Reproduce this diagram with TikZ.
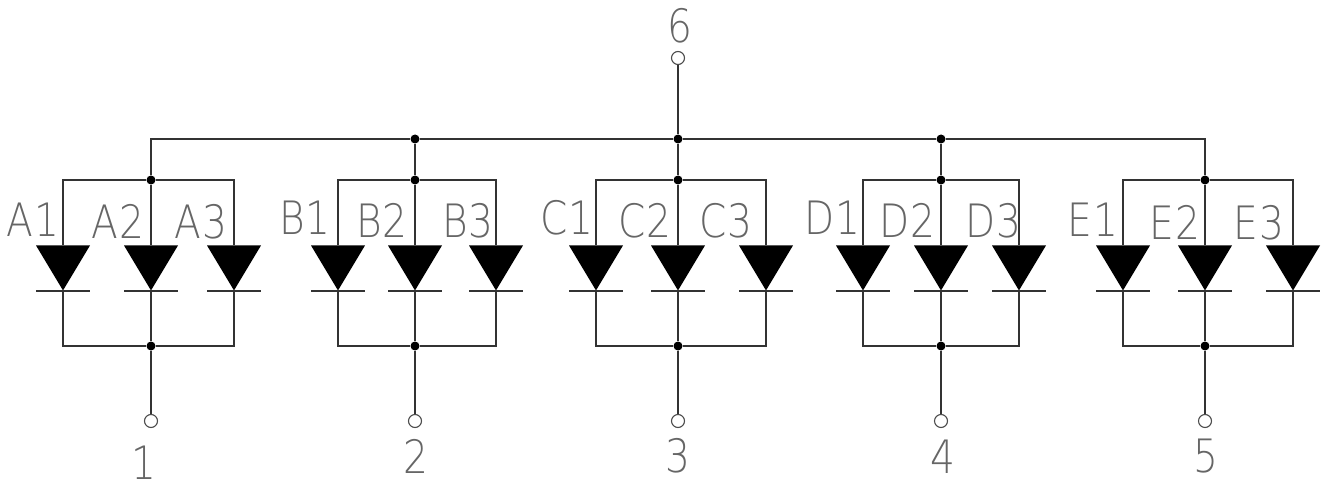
\documentclass[tikz,border=0pt]{standalone}
\usepackage{fontspec}
\setsansfont[FakeStretch=0.85,LetterSpace=2]{DejaVu Sans ExtraLight}
\usetikzlibrary{shapes.geometric}
\tikzset{
  wire/.style={line width=1.5pt,color=black!80},
  junct/.style={circle,fill=black,inner sep=0pt,minimum size=9pt},
  term/.style={circle,draw,line width=1.1pt,color=black!70,fill=white,inner sep=0pt,minimum size=13pt},
  diode/.style={isosceles triangle,isosceles triangle stretches,shape border rotate=-90,fill=black,inner sep=0pt,minimum width=54pt,minimum height=45pt,anchor=apex},
  lbl/.style={inner sep=0pt,anchor=base,color=black!60,font=\sffamily\fontsize{46}{46}\selectfont},
}
\begin{document}
\begin{tikzpicture}[x=1pt,y=-1pt]
  \useasboundingbox (0,0) rectangle (1323,481);
  % bus and pin 6
  \node[term] (p6) at (678,58) {};
  \node[junct] (j6) at (678,139) {};
  \node[lbl] (l6) at (680,43) {6};
  \draw[wire] (p6) -- (j6);
  % one group of three diodes per pin
  \foreach \g/\xa/\xb/\xc in {A/63/151/234,B/338/415/496,C/596/678/766,D/863/941/1019,E/1123/1205/1293} {
    \node[junct] (\g top) at (\xb,180) {};
    \node[junct] (\g bot) at (\xb,346) {};
    \node[term] (\g pin) at (\xb,421) {};
    \node[diode] (\g1) at (\xa,291) {};
    \node[diode] (\g2) at (\xb,291) {};
    \node[diode] (\g3) at (\xc,291) {};
    \draw[wire] (\g top) -| (\g1.lower side);
    \draw[wire] (\g top) -| (\g3.lower side);
    \draw[wire] (\g top) -- (\g2.lower side);
    \draw[wire] (\g1.apex) |- (\g bot);
    \draw[wire] (\g3.apex) |- (\g bot);
    \draw[wire] (\g2.apex) -- (\g bot);
    \draw[wire] (\g bot) -- (\g pin);
    \draw[wire] (\xa-27,291) -- (\xa+27,291);
    \draw[wire] (\xb-27,291) -- (\xb+27,291);
    \draw[wire] (\xc-27,291) -- (\xc+27,291);
  }
  % pin numbers
  \node[lbl] (l1) at (144,479) {1};
  \node[lbl] (l2) at (416,473) {2};
  \node[lbl] (l3) at (678,472) {3};
  \node[lbl] (l4) at (943,473) {4};
  \node[lbl] (l5) at (1206,472) {5};
  % diode names
  \foreach \txt/\x/\y in {A1/33/237,A2/118/239,A3/201/239,B1/305/235,B2/382/238,B3/468/238,C1/567/235,C2/645/238,C3/726/238,D1/832/235,D2/907/238,D3/993/238,E1/1093/237,E2/1175/240,E3/1259/240} {
    \node[lbl] (n\txt) at (\x,\y) {\txt};
  }
  % bus
  \node[junct] (jb) at (415,139) {};
  \node[junct] (jd) at (941,139) {};
  \draw[wire] (Atop) |- (jb) -- (j6) -- (jd) -| (Etop);
  \draw[wire] (jb) -- (Btop);
  \draw[wire] (j6) -- (Ctop);
  \draw[wire] (jd) -- (Dtop);
\end{tikzpicture}
\end{document}
